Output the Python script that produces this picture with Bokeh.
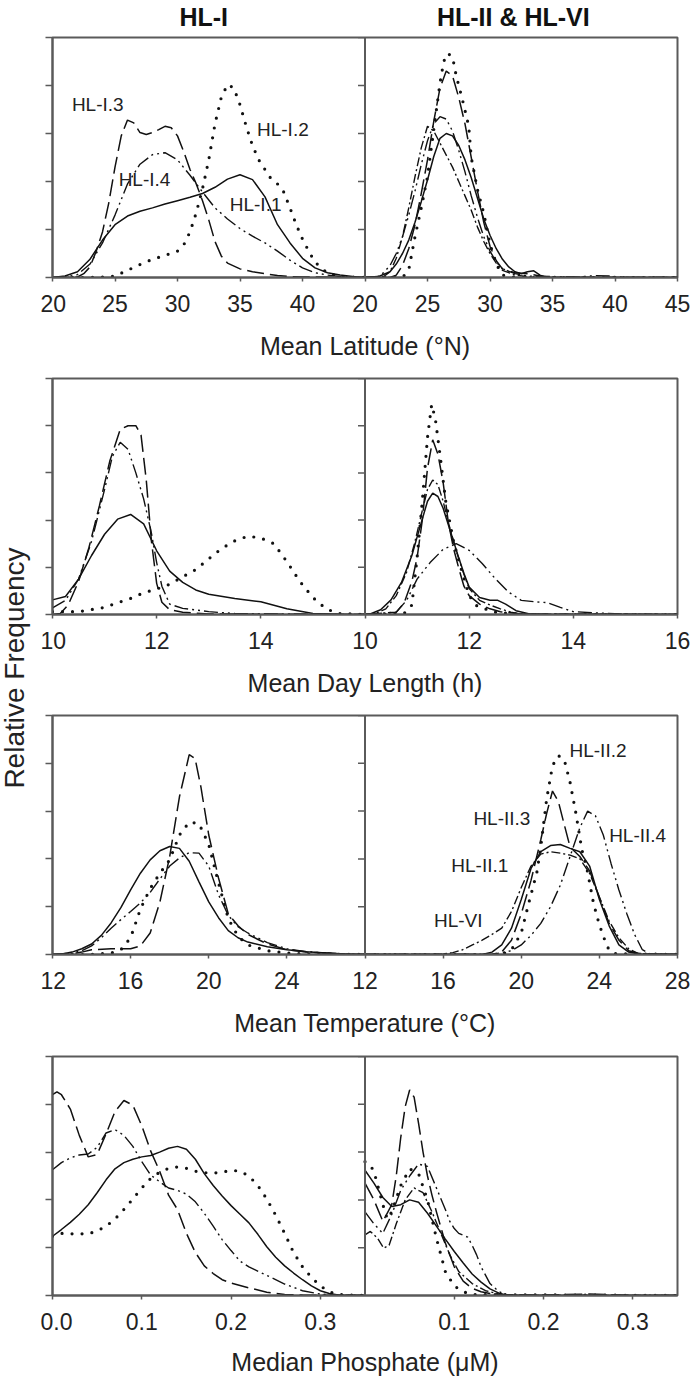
import numpy as np
from bokeh.plotting import figure
from bokeh.models import Range1d, FixedTicker, PrintfTickFormatter, Label, Span
from bokeh.layouts import row, column
from bokeh.embed import file_html
from bokeh.resources import INLINE

# ---------------- Row 1 : Mean Latitude (°N) ----------------
lat_ticks_left = [20, 25, 30, 35, 40]
lat_ticks_right = [20, 25, 30, 35, 40, 45]

lat_I1_x = [20, 21, 22, 23, 24, 25, 26, 27, 28, 29, 30, 31, 32, 33, 34, 35, 36, 37, 38, 39, 40, 41, 42, 43, 44, 45]
lat_I1_y = [0.0, 0.03, 0.12, 0.38, 0.78, 1.10, 1.28, 1.38, 1.45, 1.53, 1.60, 1.67, 1.75, 1.88, 2.05, 2.14, 2.04, 1.68, 1.10, 0.72, 0.40, 0.20, 0.10, 0.05, 0.02, 0.0]
lat_I2_x = [20, 22, 23, 24, 25, 26, 27, 28, 29, 30, 30.5, 31, 31.5, 32, 32.5, 33, 33.5, 34, 34.5, 35, 35.5, 36, 36.5, 37, 37.5, 38, 38.5, 39, 39.5, 40, 40.5, 41, 42, 43, 45]
lat_I2_y = [0, 0, 0, 0.01, 0.03, 0.15, 0.27, 0.38, 0.46, 0.55, 0.68, 0.95, 1.35, 1.85, 2.45, 3.20, 3.75, 4.02, 3.95, 3.60, 3.15, 2.75, 2.45, 2.25, 2.05, 1.95, 1.78, 1.45, 1.10, 0.80, 0.55, 0.32, 0.09, 0.02, 0]
lat_I3_x = [20, 21, 22, 22.5, 23, 23.5, 24, 24.5, 25, 25.5, 26, 26.5, 27, 27.5, 28, 28.5, 29, 29.5, 30, 30.5, 31, 31.5, 32, 32.5, 33, 33.5, 34, 35, 36, 37, 38, 39, 40, 45]
lat_I3_y = [0, 0, 0.01, 0.08, 0.22, 0.55, 0.95, 1.55, 2.30, 2.95, 3.28, 3.22, 3.02, 2.98, 3.02, 3.08, 3.15, 3.12, 2.95, 2.62, 2.25, 1.95, 1.60, 1.20, 0.75, 0.45, 0.30, 0.18, 0.12, 0.08, 0.04, 0.02, 0.01, 0]
lat_I4_x = [20, 21, 22, 23, 24, 25, 26, 27, 28, 29, 30, 31, 32, 33, 34, 35, 36, 37, 38, 39, 40, 41, 42, 43, 45]
lat_I4_y = [0, 0.01, 0.06, 0.28, 0.72, 1.30, 1.95, 2.36, 2.56, 2.60, 2.45, 2.13, 1.78, 1.45, 1.22, 1.02, 0.86, 0.72, 0.55, 0.36, 0.20, 0.10, 0.05, 0.02, 0]

lat_II1_x = [20, 21, 22, 22.5, 23, 23.5, 24, 24.5, 25, 25.5, 26, 26.5, 27, 27.5, 28, 28.5, 29, 29.5, 30, 30.5, 31, 31.5, 32, 32.5, 33, 33.5, 34, 34.5, 45]
lat_II1_y = [0, 0.01, 0.12, 0.28, 0.5, 0.78, 1.15, 1.58, 2.03, 2.52, 2.9, 3.0, 2.95, 2.75, 2.45, 2.08, 1.65, 1.22, 0.88, 0.6, 0.38, 0.22, 0.12, 0.08, 0.12, 0.14, 0.05, 0.0, 0]
lat_II2_x = [20, 23, 23.5, 24, 24.5, 25, 25.5, 26, 26.3, 26.6, 27, 27.3, 27.8, 28.3, 28.5, 29, 29.5, 30, 30.5, 31, 32, 45]
lat_II2_y = [0, 0.0, 0.16, 0.85, 1.45, 2.1, 3.08, 4.05, 4.5, 4.67, 4.6, 4.2, 3.7, 3.15, 2.5, 1.83, 1.34, 0.7, 0.28, 0.05, 0.0, 0]
lat_II3_x = [20, 22, 22.5, 23, 23.5, 24, 24.5, 25, 25.5, 26, 26.5, 27, 27.5, 28, 28.5, 29, 29.5, 30, 30.5, 31, 32, 33, 34, 35, 45]
lat_II3_y = [0, 0, 0.05, 0.25, 0.6, 1.1, 1.75, 2.45, 3.25, 3.95, 4.3, 4.2, 3.75, 3.2, 2.5, 1.8, 1.15, 0.65, 0.35, 0.18, 0.1, 0.08, 0.03, 0, 0]
lat_II4_x = [20, 21, 21.5, 22, 22.5, 23, 23.5, 24, 24.5, 25, 25.5, 26, 26.5, 27, 27.5, 28, 28.5, 29, 29.5, 30, 30.5, 31, 32, 33, 37, 38.5, 39.5, 41, 45]
lat_II4_y = [0, 0.02, 0.1, 0.25, 0.5, 0.85, 1.3, 1.8, 2.35, 2.85, 3.2, 3.35, 3.3, 3.05, 2.65, 2.2, 1.7, 1.25, 0.85, 0.55, 0.32, 0.18, 0.08, 0.03, 0.01, 0.04, 0.03, 0, 0]
lat_VI_x = [20, 21.5, 22, 22.5, 23, 23.5, 24, 24.5, 25, 25.5, 26, 26.5, 27, 27.5, 28, 28.5, 29, 29.5, 30, 30.5, 31, 32, 33, 34, 45]
lat_VI_y = [0, 0.02, 0.12, 0.4, 0.85, 1.45, 2.1, 2.7, 3.15, 3.05, 2.8, 2.55, 2.3, 2.0, 1.7, 1.4, 1.05, 0.75, 0.5, 0.3, 0.15, 0.05, 0.02, 0, 0]

# ---------------- Row 2 : Mean Day Length (h) ----------------
day_ticks_left = [10, 12, 14]
day_ticks_right = [10, 12, 14, 16]

day_I1_x = [10, 10.25, 10.5, 10.75, 11, 11.25, 11.5, 11.75, 12, 12.25, 12.5, 12.75, 13, 13.5, 14, 14.5, 15, 15.5, 16]
day_I1_y = [0.31, 0.38, 0.75, 1.25, 1.7, 2.02, 2.12, 1.92, 1.35, 0.92, 0.68, 0.52, 0.43, 0.34, 0.27, 0.12, 0.02, 0, 0]
day_I2_x = [10, 10.5, 11, 11.25, 11.5, 11.75, 12, 12.25, 12.5, 12.75, 13, 13.25, 13.5, 13.75, 14, 14.25, 14.5, 14.75, 15, 15.25, 15.5, 16]
day_I2_y = [0.06, 0.06, 0.15, 0.25, 0.34, 0.46, 0.54, 0.64, 0.80, 0.95, 1.18, 1.4, 1.56, 1.66, 1.62, 1.5, 1.12, 0.7, 0.36, 0.12, 0.02, 0]
day_I3_x = [10, 10.15, 10.3, 10.5, 10.7, 10.9, 11.1, 11.3, 11.45, 11.6, 11.7, 11.8, 11.9, 12.0, 12.1, 12.25, 12.5, 13, 16]
day_I3_y = [0, 0.02, 0.2, 0.7, 1.42, 2.3, 3.25, 3.92, 4.0, 4.0, 3.8, 2.85, 1.55, 0.66, 0.26, 0.1, 0.05, 0.01, 0]
day_I4_x = [10, 10.25, 10.5, 10.75, 11, 11.15, 11.3, 11.45, 11.6, 11.75, 11.9, 12.0, 12.1, 12.25, 12.5, 13, 13.5, 16]
day_I4_y = [0.14, 0.3, 0.75, 1.55, 2.65, 3.35, 3.65, 3.5, 3.0, 2.45, 1.72, 1.1, 0.6, 0.22, 0.13, 0.06, 0.02, 0]

day_II1_x = [10, 10.1, 10.3, 10.5, 10.7, 10.9, 11.0, 11.1, 11.2, 11.3, 11.4, 11.5, 11.6, 11.7, 11.8, 11.9, 12.0, 12.2, 12.4, 12.55, 12.7, 12.9, 13.2, 16]
day_II1_y = [0, 0.01, 0.1, 0.31, 0.68, 1.25, 1.64, 2.02, 2.4, 2.57, 2.5, 2.25, 1.9, 1.55, 1.2, 0.87, 0.58, 0.36, 0.3, 0.3, 0.22, 0.08, 0, 0]
day_II2_x = [10, 10.75, 10.9, 11.0, 11.1, 11.2, 11.28, 11.35, 11.45, 11.55, 11.7, 11.85, 12.0, 12.15, 12.3, 12.5, 13, 16]
day_II2_y = [0, 0.02, 0.2, 1.2, 2.4, 3.75, 4.45, 4.15, 3.3, 2.4, 1.55, 0.95, 0.4, 0.18, 0.12, 0.05, 0, 0]
day_II3_x = [10, 10.6, 10.75, 10.9, 11.0, 11.1, 11.2, 11.3, 11.4, 11.5, 11.6, 11.7, 11.8, 11.9, 12.0, 12.2, 12.4, 12.6, 13, 16]
day_II3_y = [0, 0.05, 0.24, 0.7, 1.2, 2.0, 3.1, 3.7, 3.4, 2.8, 1.95, 1.4, 0.98, 0.6, 0.4, 0.22, 0.12, 0.06, 0.01, 0]
day_II4_x = [10, 10.6, 10.8, 11.0, 11.25, 11.5, 11.75, 12.0, 12.25, 12.5, 12.75, 13.0, 13.25, 13.5, 13.75, 14.0, 14.5, 15, 16]
day_II4_y = [0, 0.05, 0.3, 0.75, 1.1, 1.38, 1.5, 1.36, 1.08, 0.76, 0.48, 0.3, 0.27, 0.25, 0.15, 0.06, 0.03, 0.01, 0]
day_VI_x = [10, 10.2, 10.4, 10.6, 10.8, 10.95, 11.1, 11.2, 11.3, 11.4, 11.5, 11.6, 11.75, 11.9, 12.0, 12.2, 12.4, 12.6, 12.8, 13, 16]
day_VI_y = [0, 0.02, 0.12, 0.4, 0.9, 1.5, 2.2, 2.65, 2.85, 2.75, 2.4, 1.95, 1.35, 0.85, 0.55, 0.3, 0.2, 0.12, 0.05, 0.01, 0]

# ---------------- Row 3 : Mean Temperature (°C) ----------------
tmp_ticks_left = [12, 16, 20, 24]
tmp_ticks_right = [12, 16, 20, 24, 28]

tmp_I1_x = [12, 12.5, 13, 13.5, 14, 14.5, 15, 15.5, 16, 16.5, 17, 17.5, 18, 18.5, 19, 19.5, 20, 20.5, 21, 21.5, 22, 23, 24, 25, 26, 27, 28]
tmp_I1_y = [0, 0.01, 0.05, 0.12, 0.22, 0.4, 0.66, 0.98, 1.35, 1.7, 1.98, 2.17, 2.26, 2.22, 1.95, 1.52, 1.1, 0.77, 0.5, 0.35, 0.26, 0.16, 0.1, 0.06, 0.03, 0.01, 0]
tmp_I2_x = [12, 14, 15, 15.5, 16, 16.5, 17, 17.5, 18, 18.5, 19, 19.5, 20, 20.5, 21, 21.5, 22, 23, 24, 25, 28]
tmp_I2_y = [0, 0, 0.03, 0.1, 0.35, 0.95, 1.38, 1.7, 1.98, 2.5, 2.77, 2.74, 2.3, 1.5, 0.75, 0.38, 0.2, 0.08, 0.03, 0.01, 0]
tmp_I3_x = [12, 13, 13.5, 14, 15, 16, 16.5, 17, 17.5, 18, 18.5, 19, 19.3, 19.6, 20, 20.5, 21, 21.5, 22, 22.5, 23, 24, 25, 26, 27, 28]
tmp_I3_y = [0, 0.01, 0.05, 0.1, 0.12, 0.12, 0.18, 0.45, 1.1, 2.05, 3.3, 4.18, 4.1, 3.5, 2.5, 1.6, 0.85, 0.6, 0.42, 0.32, 0.22, 0.1, 0.05, 0.03, 0.01, 0]
tmp_I4_x = [12, 13, 13.5, 14, 14.5, 15, 15.5, 16, 16.5, 17, 17.5, 18, 18.5, 19, 19.5, 20, 20.5, 21, 21.5, 22, 23, 24, 25, 26, 27, 28]
tmp_I4_y = [0, 0.03, 0.08, 0.18, 0.35, 0.55, 0.73, 0.9, 1.08, 1.3, 1.58, 1.85, 2.02, 2.13, 2.12, 1.85, 1.25, 0.82, 0.58, 0.45, 0.25, 0.12, 0.06, 0.03, 0.01, 0]

tmp_II1_x = [12, 18, 18.5, 19, 19.5, 20, 20.5, 21, 21.5, 22, 22.5, 23, 23.5, 24, 24.5, 25, 25.5, 26, 28]
tmp_II1_y = [0, 0, 0.05, 0.2, 0.55, 1.15, 1.8, 2.15, 2.28, 2.3, 2.22, 2.15, 1.85, 1.15, 0.6, 0.2, 0.05, 0.01, 0]
tmp_II2_x = [12, 19, 19.5, 20, 20.4, 20.8, 21.0, 21.3, 21.6, 21.9, 22.2, 22.5, 22.8, 23.1, 23.4, 23.7, 24.0, 24.4, 24.7, 28]
tmp_II2_y = [0, 0, 0.1, 0.45, 1.1, 1.72, 2.25, 3.25, 3.95, 4.16, 4.08, 3.6, 2.95, 2.2, 1.72, 1.07, 0.62, 0.16, 0.02, 0]
tmp_II3_x = [12, 18.5, 19, 19.5, 20, 20.5, 21, 21.3, 21.6, 21.9, 22.2, 22.5, 23, 23.5, 24, 24.5, 25, 25.5, 26, 28]
tmp_II3_y = [0, 0, 0.05, 0.3, 0.85, 1.55, 2.4, 2.95, 3.42, 3.2, 2.72, 2.25, 2.05, 1.75, 1.2, 0.65, 0.3, 0.08, 0.02, 0]
tmp_II4_x = [12, 18.5, 19.5, 20, 20.5, 21, 21.5, 22, 22.5, 23, 23.4, 23.8, 24.2, 24.6, 25, 25.4, 25.8, 26.2, 26.6, 28]
tmp_II4_y = [0, 0, 0.08, 0.2, 0.4, 0.65, 1.0, 1.45, 2.05, 2.65, 3.0, 2.9, 2.5, 1.9, 1.35, 0.86, 0.42, 0.1, 0.01, 0]
tmp_VI_x = [12, 15.5, 16, 16.5, 17, 17.5, 18, 18.5, 19, 19.5, 20, 20.5, 21, 21.5, 22, 22.5, 23, 23.5, 24, 24.5, 25, 25.5, 26, 28]
tmp_VI_y = [0, 0, 0.01, 0.04, 0.1, 0.2, 0.3, 0.42, 0.55, 0.9, 1.4, 1.85, 2.1, 2.15, 2.12, 2.08, 2.0, 1.7, 1.2, 0.7, 0.35, 0.12, 0.02, 0]

# ---------------- Row 4 : Median Phosphate (μM) ----------------
pho_ticks_left = [0.0, 0.1, 0.2, 0.3]
pho_ticks_right = [0.1, 0.2, 0.3]

pho_I1_x = [0, 0.01, 0.02, 0.03, 0.04, 0.05, 0.06, 0.07, 0.08, 0.09, 0.10, 0.11, 0.12, 0.13, 0.14, 0.15, 0.16, 0.17, 0.18, 0.19, 0.20, 0.21, 0.22, 0.23, 0.24, 0.25, 0.26, 0.27, 0.28, 0.29, 0.30, 0.31, 0.32, 0.35]
pho_I1_y = [1.24, 1.38, 1.53, 1.7, 1.9, 2.15, 2.42, 2.65, 2.78, 2.85, 2.9, 2.93, 3.0, 3.08, 3.12, 3.06, 2.85, 2.55, 2.3, 2.08, 1.88, 1.7, 1.52, 1.28, 1.02, 0.8, 0.62, 0.47, 0.33, 0.2, 0.1, 0.04, 0.01, 0]
pho_I2_x = [0, 0.01, 0.02, 0.03, 0.04, 0.05, 0.06, 0.07, 0.08, 0.09, 0.10, 0.11, 0.12, 0.13, 0.14, 0.15, 0.16, 0.17, 0.18, 0.19, 0.20, 0.21, 0.22, 0.23, 0.24, 0.25, 0.26, 0.27, 0.28, 0.29, 0.30, 0.31, 0.32, 0.35]
pho_I2_y = [1.24, 1.3, 1.29, 1.29, 1.29, 1.35, 1.45, 1.6, 1.8, 2.02, 2.25, 2.45, 2.58, 2.66, 2.69, 2.66, 2.6, 2.57, 2.56, 2.58, 2.62, 2.6, 2.5, 2.3, 2.02, 1.68, 1.3, 0.9, 0.6, 0.38, 0.2, 0.08, 0.02, 0]
pho_I3_x = [0, 0.005, 0.01, 0.02, 0.03, 0.04, 0.05, 0.06, 0.07, 0.08, 0.09, 0.10, 0.11, 0.12, 0.13, 0.14, 0.15, 0.16, 0.17, 0.18, 0.19, 0.20, 0.22, 0.24, 0.26, 0.28, 0.35]
pho_I3_y = [4.2, 4.26, 4.2, 3.9, 3.35, 2.9, 2.95, 3.38, 3.85, 4.08, 3.98, 3.55, 3.02, 2.6, 2.1, 1.8, 1.3, 0.9, 0.62, 0.46, 0.33, 0.26, 0.16, 0.07, 0.02, 0.01, 0]
pho_I4_x = [0, 0.01, 0.02, 0.03, 0.04, 0.05, 0.06, 0.07, 0.08, 0.09, 0.10, 0.11, 0.12, 0.13, 0.14, 0.15, 0.16, 0.17, 0.18, 0.19, 0.20, 0.21, 0.22, 0.24, 0.26, 0.28, 0.30, 0.32, 0.35]
pho_I4_y = [2.63, 2.78, 2.88, 2.94, 2.96, 3.1, 3.4, 3.47, 3.35, 3.12, 2.8, 2.52, 2.38, 2.25, 2.2, 2.12, 1.96, 1.72, 1.45, 1.17, 0.94, 0.72, 0.6, 0.42, 0.24, 0.1, 0.03, 0.01, 0]

pho_II1_x = [0, 0.01, 0.02, 0.03, 0.04, 0.05, 0.06, 0.07, 0.08, 0.09, 0.10, 0.11, 0.12, 0.13, 0.14, 0.15, 0.16, 0.35]
pho_II1_y = [2.62, 2.35, 2.05, 1.86, 1.9, 2.0, 1.95, 1.72, 1.45, 1.18, 0.92, 0.68, 0.45, 0.28, 0.14, 0.05, 0.0, 0]
pho_II2_x = [0, 0.005, 0.01, 0.02, 0.025, 0.03, 0.04, 0.05, 0.06, 0.07, 0.08, 0.09, 0.10, 0.11, 0.12, 0.35]
pho_II2_y = [2.8, 2.75, 2.6, 1.9, 1.6, 1.75, 2.3, 2.65, 2.55, 2.0, 1.2, 0.5, 0.2, 0.08, 0.02, 0]
pho_II3_x = [0, 0.01, 0.02, 0.03, 0.035, 0.04, 0.045, 0.05, 0.055, 0.06, 0.065, 0.07, 0.075, 0.08, 0.09, 0.10, 0.11, 0.12, 0.13, 0.14, 0.15, 0.2, 0.25, 0.3, 0.35]
pho_II3_y = [2.35, 2.0, 1.55, 1.9, 2.5, 3.3, 3.95, 4.3, 4.15, 3.6, 3.0, 2.5, 2.1, 1.75, 1.1, 0.6, 0.3, 0.15, 0.08, 0.04, 0.02, 0.01, 0.03, 0.0, 0]
pho_II4_x = [0, 0.01, 0.02, 0.03, 0.04, 0.05, 0.06, 0.07, 0.08, 0.09, 0.095, 0.10, 0.105, 0.11, 0.115, 0.12, 0.125, 0.13, 0.14, 0.15, 0.16, 0.35]
pho_II4_y = [1.75, 1.5, 1.3, 1.7, 2.2, 2.5, 2.75, 2.7, 2.25, 1.8, 1.55, 1.4, 1.3, 1.26, 1.22, 1.05, 0.85, 0.6, 0.25, 0.08, 0.0, 0]
pho_VI_x = [0, 0.006, 0.014, 0.021, 0.027, 0.035, 0.045, 0.055, 0.065, 0.075, 0.085, 0.095, 0.105, 0.12, 0.135, 0.15, 0.16, 0.35]
pho_VI_y = [1.27, 1.34, 1.2, 0.99, 1.05, 1.5, 2.0, 2.25, 2.15, 1.75, 1.3, 0.85, 0.5, 0.25, 0.1, 0.03, 0, 0]

y_ticks = [0, 1, 2, 3, 4, 5]
col_titles = ["HL-I", "HL-II & HL-VI"]

# ---------------- styling ----------------
FONT = "Liberation Sans"
AX = "#5a5a5a"
INK = "#111111"
TXT = "#222222"

STY = {
    "solid": dict(line_dash="solid", line_width=1.5),
    "dot": dict(line_dash="0 10", line_width=3.2, line_cap="round"),
    "long": dict(line_dash="17 6", line_width=1.5),
    "dd": dict(line_dash="14 4 2 4 2 4", line_width=1.4),
    "dashdot": dict(line_dash="9 3 2 3", line_width=1.4),
}

YL_W = 40          # width of the strip holding the shared y label
ROW_W = 691 - YL_W
TITLE_H = 36
NOTE_LIFT = 0.15   # labels render ~7px below their anchor; lift them back


def make_row(height, top, bottom, lo, hi, ticks_l, ticks_r, xlabel, left, right,
             fmt=None, lab_standoff=17):
    span = hi - lo
    p = figure(width=ROW_W, height=height, x_range=Range1d(lo, hi + span), y_range=Range1d(0, 5),
               min_border_left=52 - YL_W, min_border_right=14, min_border_top=top,
               min_border_bottom=bottom, toolbar_location=None, output_backend="svg",
               outline_line_color=AX, outline_line_width=2)
    p.extra_x_ranges = {"right": Range1d(lo - span, hi)}
    p.grid.visible = False

    # x axis: left panel ticks + right panel ticks (labelled with their own values)
    pos_r = [round(t + span, 6) for t in ticks_r]
    p.xaxis.ticker = FixedTicker(ticks=list(ticks_l) + pos_r)
    if fmt:
        p.xaxis.formatter = PrintfTickFormatter(format=fmt)
        p.xaxis.major_label_overrides = {pp: fmt % t for pp, t in zip(pos_r, ticks_r)}
    else:
        p.xaxis.major_label_overrides = {pp: str(t) for pp, t in zip(pos_r, ticks_r)}
    p.xaxis.major_tick_out = 4
    p.xaxis.major_tick_in = 0
    p.xaxis.minor_tick_line_color = None
    p.xaxis.major_tick_line_color = AX
    p.xaxis.major_tick_line_width = 1.5
    p.xaxis.axis_line_color = AX
    p.xaxis.axis_line_width = 2
    p.xaxis.major_label_text_font = FONT
    p.xaxis.major_label_text_font_size = "23px"
    p.xaxis.major_label_text_color = TXT
    p.xaxis.major_label_standoff = 13
    p.xaxis.axis_label = xlabel
    p.xaxis.axis_label_text_font = FONT
    p.xaxis.axis_label_text_font_size = "25px"
    p.xaxis.axis_label_text_font_style = "normal"
    p.xaxis.axis_label_text_color = TXT
    p.xaxis.axis_label_standoff = lab_standoff

    # y axis: ticks only (no tick labels in the original)
    p.yaxis.ticker = FixedTicker(ticks=y_ticks)
    p.yaxis.major_tick_out = 7
    p.yaxis.major_tick_in = 0
    p.yaxis.minor_tick_line_color = None
    p.yaxis.major_tick_line_color = AX
    p.yaxis.major_tick_line_width = 1.5
    p.yaxis.axis_line_color = AX
    p.yaxis.axis_line_width = 2
    p.yaxis.major_label_text_color = None
    p.yaxis.major_label_text_font_size = "1px"
    p.yaxis.major_label_standoff = 0

    # divider between the two panels, with the right panel's y ticks
    p.add_layout(Span(location=hi, dimension="height", line_color=AX, line_width=2))
    p.ray(x=hi, y=y_ticks, length=7, length_units="screen", angle=np.pi,
          line_color=AX, line_width=1.5)

    for x, y, s in left:
        p.line(x, y, line_color=INK, **STY[s])
    for x, y, s in right:
        p.line(x, y, x_range_name="right", line_color=INK, **STY[s])
    return p


def note(p, x, y, text, rng="default"):
    p.add_layout(Label(x=x, y=y + NOTE_LIFT, x_range_name=rng, text=text, text_align="left",
                       text_baseline="alphabetic", text_font=FONT, text_font_size="19px",
                       text_color=TXT))


# column titles strip (pixel coordinates)
tt = figure(width=ROW_W, height=TITLE_H, x_range=Range1d(0, ROW_W), y_range=Range1d(0, TITLE_H),
            min_border=0, toolbar_location=None, output_backend="svg",
            outline_line_color=None, x_axis_location=None, y_axis_location=None)
tt.grid.visible = False
for cx, txt in zip([157.5, 480.0], col_titles):
    tt.add_layout(Label(x=cx, y=20, text=txt, text_align="center",
                        text_baseline="alphabetic", text_font=FONT, text_font_size="25px",
                        text_font_style="bold", text_color=INK))

H1, H2, H3, H4 = 362 - TITLE_H, 337, 341, 338

r1 = make_row(H1, 1, 85, 20, 45, lat_ticks_left, lat_ticks_right, "Mean Latitude (°N)",
              [(lat_I1_x, lat_I1_y, "solid"), (lat_I2_x, lat_I2_y, "dot"),
               (lat_I3_x, lat_I3_y, "long"), (lat_I4_x, lat_I4_y, "dd")],
              [(lat_II1_x, lat_II1_y, "solid"), (lat_II2_x, lat_II2_y, "dot"),
               (lat_II3_x, lat_II3_y, "long"), (lat_II4_x, lat_II4_y, "dd"),
               (lat_VI_x, lat_VI_y, "dashdot")])
note(r1, 21.55, 3.45, "HL-I.3")
note(r1, 25.29, 1.89, "HL-I.4")
note(r1, 34.18, 1.37, "HL-I.1")
note(r1, 36.36, 2.93, "HL-I.2")

r2 = make_row(H2, 16, 82, 10, 16, day_ticks_left, day_ticks_right, "Mean Day Length (h)",
              [(day_I1_x, day_I1_y, "solid"), (day_I2_x, day_I2_y, "dot"),
               (day_I3_x, day_I3_y, "long"), (day_I4_x, day_I4_y, "dd")],
              [(day_II1_x, day_II1_y, "solid"), (day_II2_x, day_II2_y, "dot"),
               (day_II3_x, day_II3_y, "long"), (day_II4_x, day_II4_y, "dd"),
               (day_VI_x, day_VI_y, "dashdot")])

r3 = make_row(H3, 16, 86, 12, 28, tmp_ticks_left, tmp_ticks_right, "Mean Temperature (°C)",
              [(tmp_I1_x, tmp_I1_y, "solid"), (tmp_I2_x, tmp_I2_y, "dot"),
               (tmp_I3_x, tmp_I3_y, "long"), (tmp_I4_x, tmp_I4_y, "dd")],
              [(tmp_II1_x, tmp_II1_y, "solid"), (tmp_II2_x, tmp_II2_y, "dot"),
               (tmp_II3_x, tmp_II3_y, "long"), (tmp_II4_x, tmp_II4_y, "dd"),
               (tmp_VI_x, tmp_VI_y, "dashdot")])
note(r3, 22.47, 4.12, "HL-II.2", rng="right")
note(r3, 17.55, 2.70, "HL-II.3", rng="right")
note(r3, 24.50, 2.35, "HL-II.4", rng="right")
note(r3, 16.42, 1.71, "HL-II.1", rng="right")
note(r3, 15.53, 0.56, "HL-VI", rng="right")

r4 = make_row(H4, 16, 82, 0, 0.35, pho_ticks_left, pho_ticks_right, "Median Phosphate (μM)",
              [(pho_I1_x, pho_I1_y, "solid"), (pho_I2_x, pho_I2_y, "dot"),
               (pho_I3_x, pho_I3_y, "long"), (pho_I4_x, pho_I4_y, "dd")],
              [(pho_II1_x, pho_II1_y, "solid"), (pho_II2_x, pho_II2_y, "dot"),
               (pho_II3_x, pho_II3_y, "long"), (pho_II4_x, pho_II4_y, "dd"),
               (pho_VI_x, pho_VI_y, "dashdot")],
              fmt="%.1f", lab_standoff=15)

TOTAL_H = TITLE_H + H1 + H2 + H3 + H4
yl = figure(width=YL_W, height=TOTAL_H, x_range=Range1d(0, YL_W), y_range=Range1d(0, TOTAL_H),
            min_border=0, toolbar_location=None, output_backend="svg",
            outline_line_color=None, x_axis_location=None, y_axis_location=None)
yl.grid.visible = False
yl.add_layout(Label(x=14, y=TOTAL_H - 667.5, text="Relative Frequency", angle=np.pi / 2,
                    text_align="center", text_baseline="alphabetic", text_font=FONT,
                    text_font_size="28px", text_color=TXT))

layout = row(yl, column(tt, r1, r2, r3, r4))
open("out.html", "w").write(file_html(layout, INLINE, title="Relative frequency"))
